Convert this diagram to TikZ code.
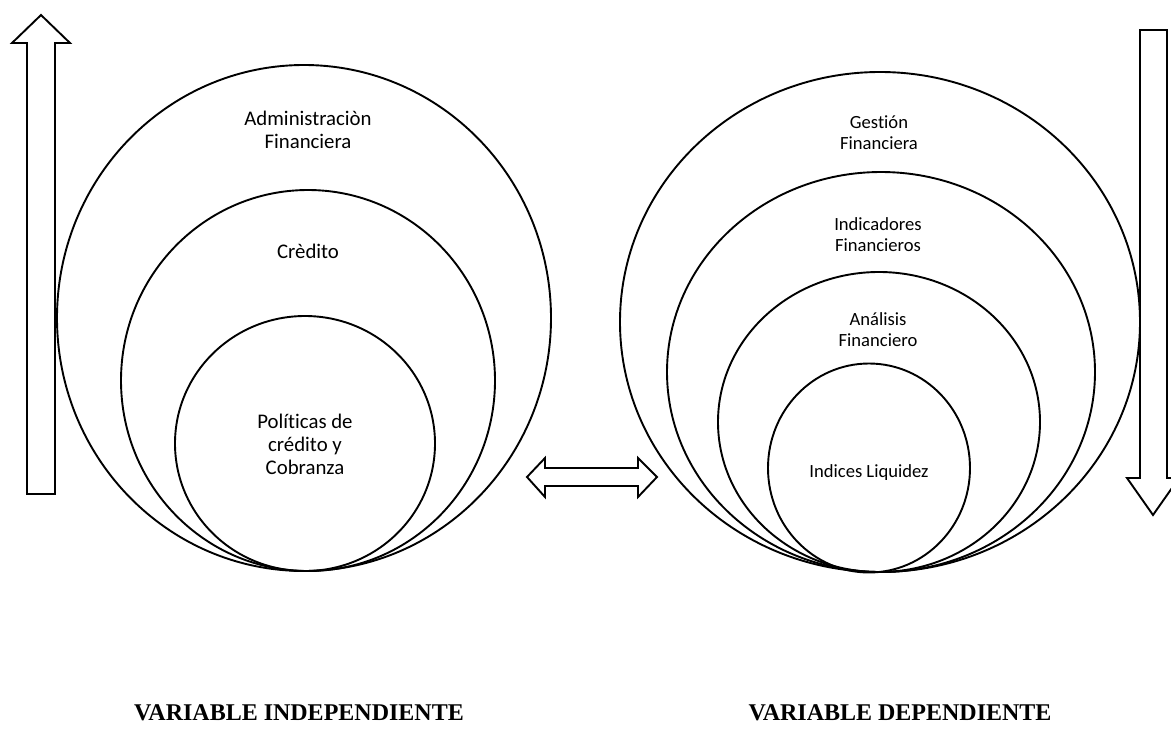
\documentclass[tikz,border=0pt]{standalone}
\usepackage{fontspec}
\setmainfont{Liberation Serif}
\newfontfamily\calib[Ligatures=NoCommon]{Carlito}
\begin{document}
\begin{tikzpicture}[x=1pt,y=-1pt,
  ring/.style={draw=black,line width=1.9pt},
  blockarrow/.style={draw=black,line width=1.9pt,fill=white,line join=miter},
  lbl/.style={align=center,inner sep=0pt,font=\calib\fontsize{20.8}{23}\selectfont},
  rlbl/.style={align=center,inner sep=0pt,font=\calib\fontsize{18.6}{21}\selectfont},
  title/.style={inner sep=0pt,font=\bfseries\fontsize{24}{28}\selectfont}]
\useasboundingbox (0,0) rectangle (1171,742);
% left set
\draw[ring] (304,318) ellipse [x radius=247, y radius=253];
\draw[ring] (308,380.5) ellipse [x radius=187, y radius=190.5];
\draw[ring] (305,443.5) ellipse [x radius=130, y radius=127.5];
% right set
\draw[ring] (880,322) ellipse [x radius=260, y radius=250];
\draw[ring] (881,372) ellipse [x radius=214, y radius=200];
\draw[ring] (879,422) ellipse [x radius=161, y radius=150];
\draw[ring] (869,468) ellipse [x radius=101, y radius=104.5];
% labels
\node[lbl] (adm) at (308,130) {Administraciòn\\Financiera};
\node[lbl] (cre) at (308,251) {Crèdito};
\node[lbl] (pol) at (305,444) {Políticas de\\crédito y\\Cobranza};
\node[rlbl] (ges) at (879,133) {Gestión\\Financiera};
\node[rlbl] (ind) at (878,235) {Indicadores\\Financieros};
\node[rlbl] (ana) at (878,330) {Análisis\\Financiero};
\node[rlbl] (liq) at (869,473) {Indices Liquidez};
% arrows
\draw[blockarrow] (41,15) -- (70,43) -- (55,43) -- (55,494) -- (27,494) -- (27,43) -- (12,43) -- cycle;
\draw[blockarrow] (1153,515) -- (1179,478) -- (1167,478) -- (1167,30) -- (1140,30) -- (1140,478) -- (1127,478) -- cycle;
\draw[blockarrow] (527,477) -- (545,458) -- (545,468) -- (638,468) -- (638,458) -- (657,477) -- (638,497) -- (638,486) -- (545,486) -- (545,497) -- cycle;
% titles
\node[title] (vi) at (299,713) {VARIABLE INDEPENDIENTE};
\node[title] (vd) at (900,713) {VARIABLE DEPENDIENTE};
\end{tikzpicture}
\end{document}
